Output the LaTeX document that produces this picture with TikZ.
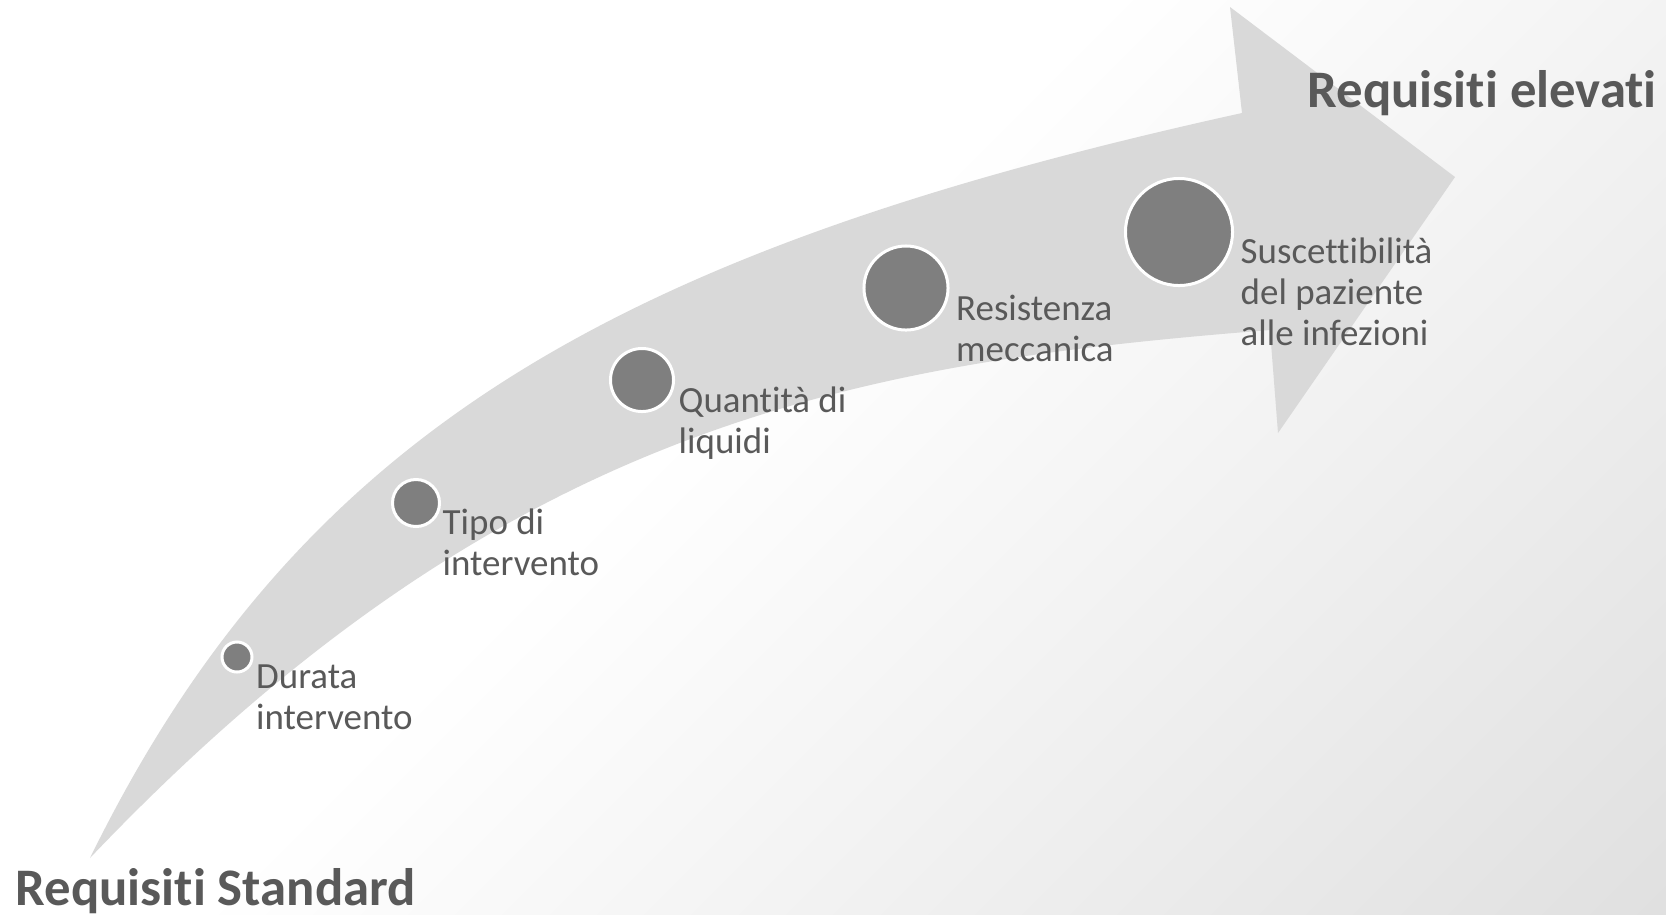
\documentclass[tikz,border=0pt]{standalone}
\usepackage{fontspec}
\setmainfont{Carlito}[Ligatures=NoCommon]
\usetikzlibrary{positioning,calc}

\definecolor{bandgray}{HTML}{D9D9D9}
\definecolor{dotgray}{HTML}{7F7F7F}
\definecolor{textgray}{HTML}{595959}
\definecolor{bgdark}{HTML}{E0E0E0}

\pgfdeclarehorizontalshading{bgfade}{100bp}{color(0bp)=(white); color(45bp)=(white); color(85.4bp)=(bgdark); color(100bp)=(bgdark)}

\begin{document}
\begin{tikzpicture}
            [x=0.01cm, y=-0.01cm,
             dot/.style={circle, fill=dotgray, draw=white, line width=0.03cm, inner sep=0pt},
             lbl/.style={anchor=base west, align=left, inner sep=0pt, text=textgray, font=\fontsize{10.5}{11.66}\selectfont},
             title/.style={anchor=base west, inner sep=0pt, text=textgray, font=\fontsize{15}{18}\selectfont\bfseries}]

            % background
            \shade[shading=bgfade, shading angle=-45] (0,0) rectangle (1666,914);

            % curved arrow
            \coordinate (tail) at (90,858);
            \coordinate (neckup) at (1242,113);
            \coordinate (headtop) at (1230,7);
            \coordinate (headtip) at (1455,177);
            \coordinate (headbot) at (1278,433);
            \coordinate (necklow) at (1270,330);
            \fill[bandgray] (tail) .. controls (300,430) and (620,250) .. (neckup)
                -- (headtop) -- (headtip) -- (headbot) -- (necklow)
                .. controls (855,363) and (505,422) .. (tail) -- cycle;

            \node[dot, minimum size=0.30cm] (c1) at (237,657) {};
            \node[dot, minimum size=0.47cm] (c2) at (416,503) {};
            \node[dot, minimum size=0.63cm] (c3) at (642,380) {};
            \node[dot, minimum size=0.84cm] (c4) at (906,288) {};
            \node[dot, minimum size=1.07cm] (c5) at (1179,232) {};

            % base of a two-line label is its last line
            \node[lbl] (l1) at ($(c1.east)+(2,72)$) {Durata\\intervento};
            \node[lbl] (l2) at ($(c2.east)+(1,72)$) {Tipo di\\intervento};
            \node[lbl] (l3) at ($(c3.east)+(3,73)$) {Quantità di\\liquidi};
            \node[lbl] (l4) at ($(c4.east)+(6,73)$) {Resistenza\\meccanica};
            \node[lbl] (l5) at ($(c5.east)+(6,113)$) {Suscettibilità\\del paziente\\alle infezioni};

            \node[title] (low) at (15,905) {Requisiti Standard};
            \node[title] (high) at (1307,107) {Requisiti elevati};
        \end{tikzpicture}
\end{document}
